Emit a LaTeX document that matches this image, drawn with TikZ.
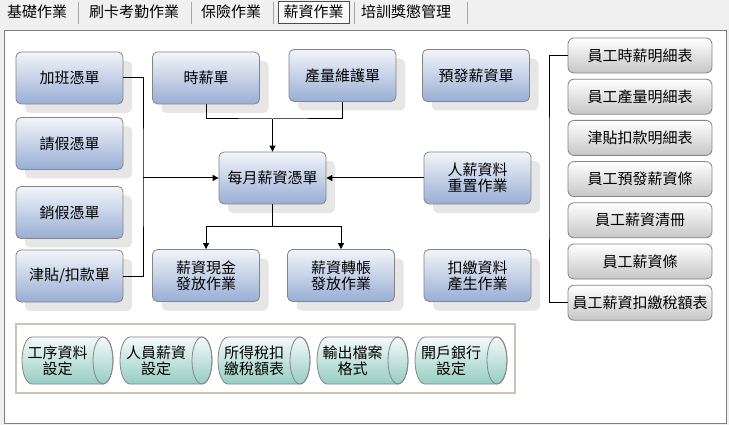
\documentclass[tikz,border=0pt]{standalone}
\usepackage{fontspec}
\setmainfont{Noto Sans CJK TC}
\usetikzlibrary{arrows.meta,shadows}
\definecolor{bgc}{HTML}{F0F0F0}
\definecolor{bluetop}{HTML}{F2F5FA}
\definecolor{bluebot}{HTML}{98AED4}
\definecolor{bordc}{HTML}{858585}
\definecolor{graybot}{HTML}{C6C6C6}
\definecolor{tealbot}{HTML}{96CDC3}
\definecolor{tealtop}{HTML}{F4FAF9}
\definecolor{framec}{HTML}{C9C5B2}
\definecolor{shadc}{HTML}{E6E6E6}
\definecolor{panelc}{HTML}{7F7F7F}
\newcommand\mycyl[4]{%
  \path[draw=bordc, line width=0.8pt, top color=tealtop, bottom color=tealbot]
    (#2+10,337) -- (#3-10,337)
    arc[start angle=-90,end angle=90,x radius=10,y radius=23.5]
    -- (#2+10,384)
    arc[start angle=90,end angle=270,x radius=10,y radius=23.5] -- cycle;
  \draw[draw=bordc, line width=0.8pt] (#3-10,360.5) ellipse[x radius=10,y radius=23.5];
  \node[lbl] (#1) at ({(#2+#3)/2-10},360.5) {#4};
}
\begin{document}
\begin{tikzpicture}[x=1pt,y=-1pt,
  lbl/.style={font=\fontsize{15pt}{16pt}\selectfont, align=center, inner sep=0pt},
  bluebox/.style={lbl, draw=bordc, line width=0.8pt, rounded corners=5pt, top color=bluetop, bottom color=bluebot,
    minimum width=107pt, minimum height=52pt,
    drop shadow={shadow xshift=9pt, shadow yshift=-9pt, fill=shadc, opacity=1}},
  graybox/.style={lbl, draw=bordc, line width=0.8pt, rounded corners=6pt, top color=white, bottom color=graybot,
    minimum width=144pt, minimum height=35pt},
  conn/.style={draw=black, line width=1pt},
  arr/.style={conn, -{Triangle[length=6pt,width=6pt]}},
  tab/.style={font=\fontsize{15pt}{16pt}\selectfont, inner sep=0pt},
  sep/.style={draw=gray!70, line width=1pt},
]
\fill[bgc] (0,0) rectangle (729,425);
\useasboundingbox (0,0) rectangle (729,425);

% tabs
\draw[draw=gray!60!black, fill=white!96!gray] (278,1.5) rectangle (349,23.5);
\foreach \sx in {78,191,273,354,467} \draw[sep] (\sx,2) -- (\sx,24);
\node[tab] (t1) at (37,12) {基礎作業};
\node[tab] (t2) at (134,12) {刷卡考勤作業};
\node[tab] (t3) at (231,12) {保險作業};
\node[tab] (t4) at (313.5,12) {薪資作業};
\node[tab] (t5) at (406,12) {培訓獎懲管理};

% panel
\draw[draw=panelc, fill=white, line width=1pt] (4.5,30.5) rectangle (726.5,423.5);

% blue boxes
\node[bluebox] (jb) at (69.5,78) {加班憑單};
\node[bluebox] (qj) at (69.5,143.5) {請假憑單};
\node[bluebox] (xj) at (69.5,212.5) {銷假憑單};
\node[bluebox] (jt) at (69.5,276) {津貼/扣款單};
\node[bluebox] (sx) at (206,78) {時薪單};
\node[bluebox] (cl) at (342.5,75.5) {產量維護單};
\node[bluebox] (yf) at (476,75.5) {預發薪資單};
\node[bluebox] (my) at (272.5,178) {每月薪資憑單};
\node[bluebox] (rx) at (477.5,178) {人薪資料\\重置作業};
\node[bluebox] (xs) at (206,275.5) {薪資現金\\發放作業};
\node[bluebox] (zz) at (341,275.5) {薪資轉帳\\發放作業};
\node[bluebox] (kj) at (477.5,275.5) {扣繳資料\\產生作業};

% connectors
\coordinate (bus) at (143,178);
\draw[conn] (jb.east) -| (bus) |- (jt.east);
\draw[arr] (bus) -- (my.west);
\coordinate (j1) at (272.5,119);
\draw[conn] (sx.south) |- (j1) -| (cl.south);
\draw[arr] (j1) -- (my.north);
\draw[arr] (rx.west) -- (my.east);
\coordinate (j2) at (272.5,227);
\draw[conn] (my.south) -- (j2);
\draw[arr] (j2) -| (xs.north);
\draw[arr] (j2) -| (zz.north);

% right column
\node[graybox] (r1) at (640,55.5) {員工時薪明細表};
\node[graybox] (r2) at (640,96.7) {員工產量明細表};
\node[graybox] (r3) at (640,137.9) {津貼扣款明細表};
\node[graybox] (r4) at (640,179.1) {員工預發薪資條};
\node[graybox] (r5) at (640,220.3) {員工薪資清冊};
\node[graybox] (r6) at (640,261.5) {員工薪資條};
\node[graybox] (r7) at (640,302.7) {員工薪資扣繳稅額表};
\coordinate (brk) at (549,178);
\draw[conn] (r1.west) -| (brk) |- (r7.west);

% bottom settings
\draw[draw=framec, line width=2pt, fill=white] (16,324) rectangle (515,393);
\mycyl{c1}{22}{113}{工序資料\\設定}
\mycyl{c2}{120}{212}{人員薪資\\設定}
\mycyl{c3}{218}{310}{所得稅扣\\繳稅額表}
\mycyl{c4}{317}{408}{輸出檔案\\格式}
\mycyl{c5}{415}{507}{開戶銀行\\設定}
\end{tikzpicture}
\end{document}
